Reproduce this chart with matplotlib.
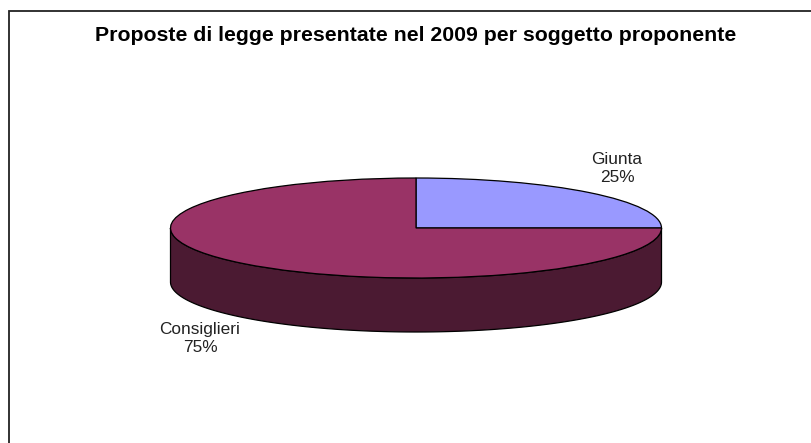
"""Proposte di legge 2009: 3D-looking pie chart, squashed pie plus an extruded side."""
import numpy as np
import matplotlib
matplotlib.use("Agg")
import matplotlib.pyplot as plt
from matplotlib.patches import Polygon

LABELS = ["Giunta", "Consiglieri"]
VALUES = [25, 75]
COLORS = ["#9999FF", "#993366"]
SIDE_COLOR = "#4B1A32"
TITLE = "Proposte di legge presentate nel 2009 per soggetto proponente"

W, H = 812, 443
plt.rcParams["font.family"] = ["Liberation Sans", "DejaVu Sans"]

fig = plt.figure(figsize=(W / 100, H / 100), dpi=100, facecolor="white")

# page frame: only the top and left edges are inside the image
bg = fig.add_axes([0, 0, 1, 1])
bg.set_xlim(0, W)
bg.set_ylim(H, 0)
bg.axis("off")
bg.plot([8.7, 8.7, W], [H, 11.2, 11.2], color="#222222", lw=1.3, solid_joinstyle="miter")

# axes box is the bounding box of the top ellipse
cx, cy, rx, ry = 416, 228, 245.5, 50
depth = 54 / ry
ax = fig.add_axes([(cx - rx) / W, 1 - (cy + ry) / H, 2 * rx / W, 2 * ry / H])

t = np.linspace(np.pi, 2 * np.pi, 200)
side = np.r_[np.c_[np.cos(t), np.sin(t) - depth], np.c_[np.cos(t), np.sin(t)][::-1]]
ax.add_patch(Polygon(side, closed=True, fc=SIDE_COLOR, ec="black", lw=0.9, clip_on=False))

ax.pie(VALUES, colors=COLORS, startangle=90, counterclock=False, radius=1,
       center=(0, 0), wedgeprops={"edgecolor": "black", "linewidth": 0.9, "clip_on": False})
ax.set_aspect("auto")
ax.set_xlim(-1, 1)
ax.set_ylim(-1, 1)

bg.text(416, 35, TITLE, ha="center", va="center", fontsize=15.3, fontweight="bold", color="black")
bg.text(617, 168.5, f"{LABELS[0]}\n{VALUES[0]}%", ha="center", va="center", fontsize=12.4,
        color="#222222", linespacing=1.28)
bg.text(200, 338.5, f"{LABELS[1]}\n{VALUES[1]}%", ha="center", va="center", fontsize=12.4,
        color="#222222", linespacing=1.28)

fig.savefig("out.png", dpi=100)
plt.close(fig)
